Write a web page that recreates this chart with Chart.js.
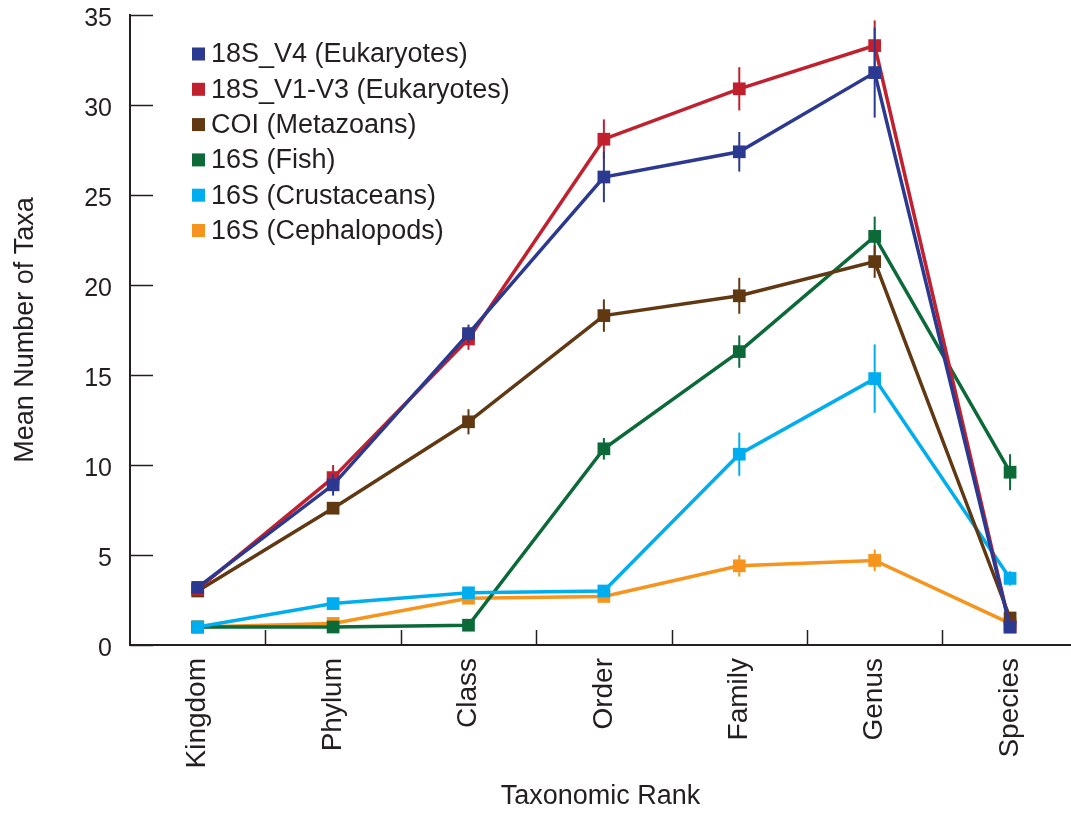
<!DOCTYPE html>
<html>
<head>
<meta charset="utf-8">
<script src="https://cdn.jsdelivr.net/npm/chart.js@4.4.0/dist/chart.umd.min.js"></script>
<style>
  body { margin: 0; background: #fff; }
  #wrap { width: 1071px; height: 813px; }
</style>
</head>
<body>
<div id="wrap"><canvas id="taxaChart" width="1071" height="813"></canvas></div>
<script>
// Rangos taxonómicos y medias por marcador
const categories = ['Kingdom', 'Phylum', 'Class', 'Order', 'Family', 'Genus', 'Species'];

const v4Values   = [3.2, 8.9, 17.3, 26.0, 27.4, 31.8, 1.0];
const v1v3Values = [3.1, 9.3, 17.0, 28.1, 30.9, 33.3, 1.0];
const coiValues  = [3.0, 7.6, 12.4, 18.3, 19.4, 21.3, 1.5];
const fishValues = [1.0, 1.0, 1.1, 10.9, 16.3, 22.7, 9.6];
const crustValues = [1.0, 2.3, 2.9, 3.0, 10.6, 14.8, 3.7];
const cephValues = [1.0, 1.2, 2.6, 2.7, 4.4, 4.7, 1.2];

// Barras de error (+/-)
const v4Err   = [0.3, 0.6, 0.5, 1.4, 1.1, 2.5, 0.1];
const v1v3Err = [0.3, 0.7, 0.6, 1.1, 1.2, 1.4, 0.1];
const coiErr  = [0.2, 0.3, 0.7, 0.9, 1.0, 0.9, 0.3];
const fishErr = [0.1, 0.1, 0.1, 0.6, 0.9, 1.1, 1.0];
const crustErr = [0.1, 0.2, 0.2, 0.2, 1.2, 1.9, 0.4];
const cephErr = [0.1, 0.2, 0.2, 0.2, 0.6, 0.6, 0.2];

const yTicks = [0, 5, 10, 15, 20, 25, 30, 35];

const TEXT = '#231f20';
const FONT = "'Liberation Sans', Arial, sans-serif";

function makeSeries(label, values, errors, color, order) {
  return {
    label: label,
    data: values.map((v, i) => ({ x: i, y: v })),
    errors: errors,
    borderColor: color,
    backgroundColor: color,
    pointBackgroundColor: color,
    pointBorderWidth: 0,
    pointStyle: 'rect',
    pointRadius: 9,
    borderWidth: 3.5,
    tension: 0,
    order: order
  };
}

// Barras de error, dibujadas junto con cada serie
const errorBars = {
  id: 'errorBars',
  afterDatasetDraw(chart, args) {
    const ds = chart.data.datasets[args.index];
    const y = chart.scales.y;
    const ctx = chart.ctx;
    ctx.save();
    ctx.strokeStyle = ds.borderColor;
    ctx.lineWidth = 2;
    args.meta.data.forEach((pt, i) => {
      const v = ds.data[i].y;
      const e = ds.errors[i];
      ctx.beginPath();
      ctx.moveTo(pt.x, y.getPixelForValue(v - e));
      ctx.lineTo(pt.x, y.getPixelForValue(v + e));
      ctx.stroke();
    });
    ctx.restore();
  }
};

// Marcas de eje hacia adentro
const innerTicks = {
  id: 'innerTicks',
  afterDraw(chart) {
    const { ctx, chartArea, scales } = chart;
    ctx.save();
    ctx.strokeStyle = TEXT;
    ctx.lineWidth = 1.5;
    yTicks.forEach(t => {
      const py = Math.round(scales.y.getPixelForValue(t)) + 0.5;
      ctx.beginPath();
      ctx.moveTo(chartArea.left, py);
      ctx.lineTo(chartArea.left + 23, py);
      ctx.stroke();
    });
    for (let i = 0; i < categories.length - 1; i++) {
      const px = Math.round(scales.x.getPixelForValue(i + 0.5)) + 0.5;
      ctx.beginPath();
      ctx.moveTo(px, chartArea.bottom);
      ctx.lineTo(px, chartArea.bottom - 15);
      ctx.stroke();
    }
    ctx.restore();
  }
};

// Leyenda dentro del área del gráfico
const insideLegend = {
  id: 'insideLegend',
  afterDraw(chart) {
    const { ctx, chartArea } = chart;
    const x0 = chartArea.left + 62;
    const y0 = chartArea.top + 39;
    ctx.save();
    ctx.font = '27px ' + FONT;
    ctx.textBaseline = 'middle';
    ctx.textAlign = 'left';
    chart.data.datasets.forEach((ds, i) => {
      const cy = y0 + i * 35.3;
      ctx.fillStyle = ds.borderColor;
      ctx.fillRect(x0, cy - 6.5, 13, 13);
      ctx.fillStyle = TEXT;
      ctx.fillText(ds.label, x0 + 19, cy + 1);
    });
    ctx.restore();
  }
};

const ctx = document.getElementById('taxaChart').getContext('2d');
const taxaChart = new Chart(ctx, {
  type: 'line',
  data: {
    datasets: [
      makeSeries('18S_V4 (Eukaryotes)', v4Values, v4Err, '#2b3990', 0),
      makeSeries('18S_V1-V3 (Eukaryotes)', v1v3Values, v1v3Err, '#c1202f', 1),
      makeSeries('COI (Metazoans)', coiValues, coiErr, '#603913', 2),
      makeSeries('16S (Fish)', fishValues, fishErr, '#0b6a38', 4),
      makeSeries('16S (Crustaceans)', crustValues, crustErr, '#00aeef', 3),
      makeSeries('16S (Cephalopods)', cephValues, cephErr, '#f7941d', 5)
    ]
  },
  options: {
    responsive: false,
    animation: false,
    devicePixelRatio: 1,
    layout: { autoPadding: false, padding: { top: 15, right: 0, bottom: 0, left: 0 } },
    plugins: {
      legend: { display: false },
      tooltip: { enabled: false }
    },
    scales: {
      x: {
        type: 'linear',
        min: -0.5,
        max: 6.45,
        afterBuildTicks: (s) => { s.ticks = categories.map((c, i) => ({ value: i })); },
        afterFit: (s) => { s.height = 168; s.paddingLeft = 0; s.paddingRight = 0; },
        grid: { display: false, drawTicks: false },
        border: { display: true, color: TEXT, width: 2 },
        ticks: {
          autoSkip: false,
          minRotation: 90,
          maxRotation: 90,
          padding: 13,
          color: TEXT,
          font: { family: FONT, size: 28 },
          callback: (v) => categories[v]
        },
        title: {
          display: true,
          text: 'Taxonomic Rank',
          color: TEXT,
          font: { family: FONT, size: 27, lineHeight: 1.2 },
          padding: { top: 0, bottom: 0 }
        }
      },
      y: {
        min: 0,
        max: 35,
        afterBuildTicks: (s) => { s.ticks = yTicks.map(v => ({ value: v })); },
        afterFit: (s) => { s.width = 130; s.paddingTop = 0; s.paddingBottom = 0; },
        grid: { display: false, drawTicks: false },
        border: { display: true, color: TEXT, width: 2 },
        ticks: {
          padding: 18,
          labelOffset: 4,
          color: TEXT,
          font: { family: FONT, size: 25 }
        },
        title: {
          display: true,
          text: 'Mean Number of Taxa',
          color: TEXT,
          font: { family: FONT, size: 27, lineHeight: 1.2 },
          padding: { top: 9, bottom: 0 }
        }
      }
    }
  },
  plugins: [errorBars, innerTicks, insideLegend]
});
</script>
</body>
</html>
